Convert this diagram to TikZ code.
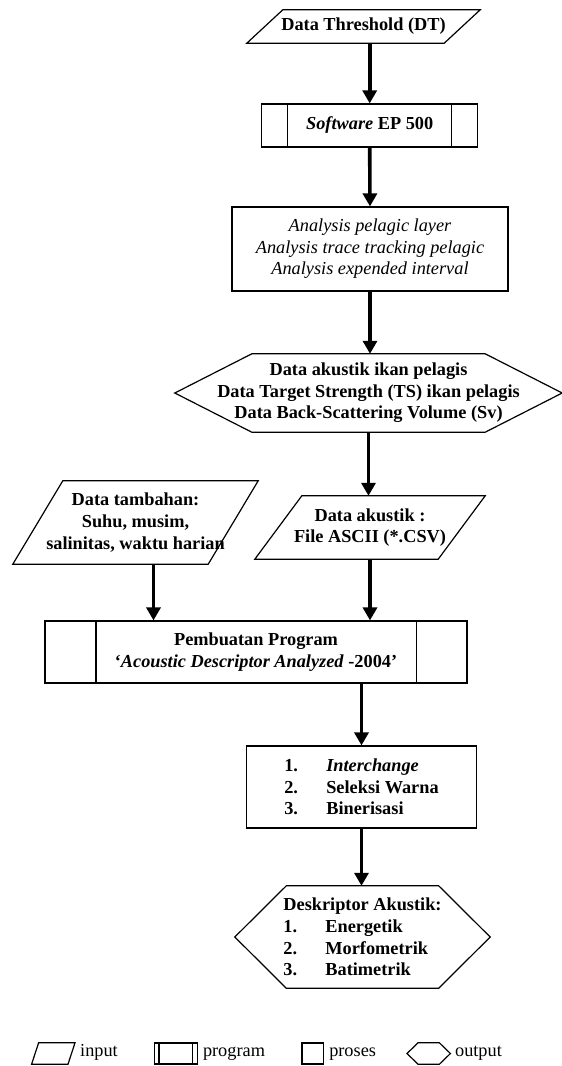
\documentclass[tikz,border=0pt]{standalone}
\usepackage{fontspec}
\setmainfont{Liberation Serif}
\usetikzlibrary{arrows.meta,calc,positioning}

\tikzset{
  outline/.style={line width=1.2pt},
  flow/.style={line width=3.6pt, -{Triangle[width=14pt,length=13pt]}},
  base/.style={inner sep=0pt, align=center, font=\fontsize{18.3}{21.6}\selectfont\bfseries},
  legtext/.style={inner sep=0pt, text height=1.6ex, text depth=.3ex, font=\fontsize{18.3}{21.6}\selectfont},
  % input: parallelogram, #1 = slant
  inputbox/.style={base, append after command={\pgfextra{\draw[outline]
    ($(\tikzlastnode.north west)+(#1,0)$) -- (\tikzlastnode.north east) --
    ($(\tikzlastnode.south east)-(#1,0)$) -- (\tikzlastnode.south west) -- cycle;}}},
  % program: box with side bands, #1 = band width
  programbox/.style={base, draw, outline, append after command={\pgfextra{\draw[outline]
    ($(\tikzlastnode.north west)+(#1,0)$) -- ($(\tikzlastnode.south west)+(#1,0)$)
    ($(\tikzlastnode.north east)-(#1,0)$) -- ($(\tikzlastnode.south east)-(#1,0)$);}}},
  processbox/.style={base, draw, outline},
  % output: hexagon, #1 = depth of the points
  outputbox/.style={base, append after command={\pgfextra{\draw[outline]
    ($(\tikzlastnode.north west)+(#1,0)$) -- ($(\tikzlastnode.north east)-(#1,0)$) --
    (\tikzlastnode.east) -- ($(\tikzlastnode.south east)-(#1,0)$) --
    ($(\tikzlastnode.south west)+(#1,0)$) -- (\tikzlastnode.west) -- cycle;}}},
}

\begin{document}
\begin{tikzpicture}[x=1pt, y=-1pt]
\useasboundingbox (0,0) rectangle (562,1066);

% Main column
\node[inputbox=36, minimum width=233, minimum height=33] (dt) at (363.5,26.5) {Data Threshold (DT)};
\node[programbox=26.5, minimum width=216, minimum height=43] (sw) at (369.7,125.5) {\textit{Software} EP 500};
\node[processbox, minimum width=276, minimum height=84, font=\fontsize{18.3}{21.6}\selectfont\itshape] (ana) at (370,249)
  {Analysis pelagic layer\\Analysis trace tracking pelagic\\Analysis expended interval};
\node[outputbox=77, minimum width=387, minimum height=78] (dat) at (368.5,393)
  {Data akustik ikan pelagis\\Data Target Strength (TS) ikan pelagis\\Data Back-Scattering Volume (Sv)};
\node[inputbox=47, minimum width=230, minimum height=63] (akus) at (370,527.5) {Data akustik :\\File ASCII (*.CSV)};
\node[inputbox=50, minimum width=245, minimum height=83] (tamb) at (135.5,522.5)
  {Data tambahan:\\Suhu, musim,\\salinitas, waktu harian};
\node[programbox=51.5, minimum width=422, minimum height=62] (prog) at (256,652)
  {Pembuatan Program\\‘\textit{Acoustic Descriptor Analyzed} -2004’};
\node[processbox, minimum width=230, minimum height=82, align=left] (proc) at (361.5,787)
  {\makebox[42pt][l]{1.}\textit{Interchange}\\\makebox[42pt][l]{2.}Seleksi Warna\\\makebox[42pt][l]{3.}Binerisasi};
\node[outputbox=51.5, minimum width=255, minimum height=102, align=left] (desk) at (362.5,937)
  {Deskriptor Akustik:\\\makebox[42pt][l]{1.}Energetik\\\makebox[42pt][l]{2.}Morfometrik\\\makebox[42pt][l]{3.}Batimetrik};

% Arrows
\draw[flow] (dt.south -| sw.north) -- (sw.north);
\draw[flow] (sw.south) -- (ana.north);
\draw[flow] (ana.south) -- (ana.south |- dat.north);
\draw[flow] (dat.south) -- (dat.south |- akus.north);
\draw[flow] (akus.south) -- (akus.south |- prog.north);
\draw[flow] ([xshift=18pt]tamb.south) -- ([xshift=18pt]tamb.south |- prog.north);
\draw[flow] (prog.south -| proc.north) -- (proc.north);
\draw[flow] (proc.south) -- (proc.south |- desk.north);

% Legend
\node[inputbox=7, minimum width=43, minimum height=21] (lin) at (53.3,1053.5) {};
\node[legtext, right=5pt of lin] (tin) {input};
\node[programbox=5.4, minimum width=43, minimum height=21] (lprog) at (175.7,1053.5) {};
\node[legtext, right=5pt of lprog] (tprog) {program};
\node[processbox, minimum width=21.5, minimum height=21] (lproc) at (312.7,1053.5) {};
\node[legtext, right=5pt of lproc] (tproc) {proses};
\node[outputbox=11, minimum width=43, minimum height=21] (lout) at (428.7,1053.5) {};
\node[legtext, right=4.5pt of lout] (tout) {output};
\end{tikzpicture}
\end{document}
